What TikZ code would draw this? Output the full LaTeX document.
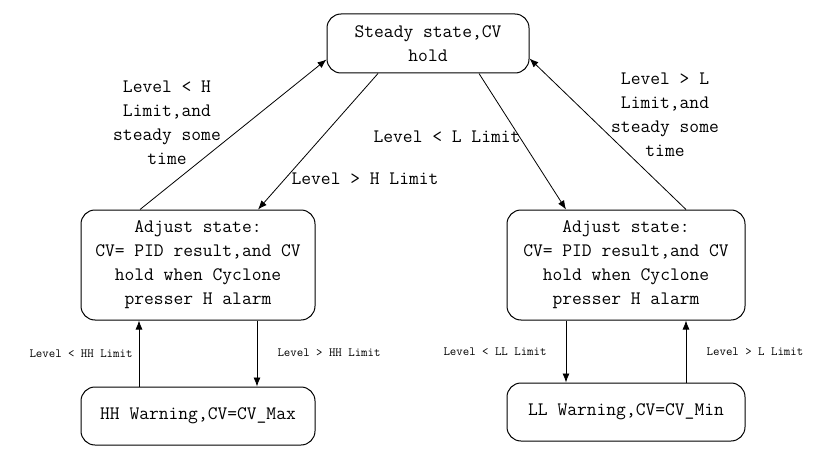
\documentclass[tikz,border=0pt]{standalone}
\usepackage{fontspec}
\usetikzlibrary{arrows.meta}

\tikzset{
    state/.style={draw, line width=1pt, rounded corners=14pt, align=center,
        font=\ttfamily\fontsize{19}{24}\selectfont, inner sep=0pt},
    bigtxt/.style={align=center, font=\ttfamily\fontsize{19}{24}\selectfont, inner sep=0pt},
    smalltxt/.style={font=\ttfamily\fontsize{12.5}{14}\selectfont, inner sep=0pt},
    arr/.style={line width=0.8pt, -{Latex[length=9pt,width=7pt]}}
}

\begin{document}
\begin{tikzpicture}[x=1pt,y=-1pt]
    \useasboundingbox (0,0) rectangle (825,460);

    % draw states
    \node[state, minimum width=202pt, minimum height=59pt] (steady) at (428,43.5) {Steady state,CV\\hold};
    \node[state, minimum width=234pt, minimum height=110pt] (adjL) at (198,265)
        {Adjust state:\\CV= PID result,and CV\\hold when Cyclone\\presser H alarm};
    \node[state, minimum width=238pt, minimum height=110pt] (adjR) at (626,265)
        {Adjust state:\\CV= PID result,and CV\\hold when Cyclone\\presser H alarm};
    \node[state, minimum width=234pt, minimum height=58pt] (hh) at (198,416) {HH Warning,CV=CV\_Max};
    \node[state, minimum width=238pt, minimum height=58pt] (ll) at (626,412) {LL Warning,CV=CV\_Min};

    % draw transitions to and from steady state
    \draw[arr] ([xshift=-58pt]adjL.north) -- ([yshift=-16pt]steady.west);
    \draw[arr] ([xshift=-50pt]steady.south) -- ([xshift=60pt]adjL.north);
    \draw[arr] ([xshift=51pt]steady.south) -- ([xshift=-60pt]adjR.north);
    \draw[arr] ([xshift=60pt]adjR.north) -- ([yshift=-15pt]steady.east);

    % draw transitions to and from warnings
    \draw[arr] ([xshift=59pt]adjL.south) -- ([xshift=59pt]hh.north);
    \draw[arr] ([xshift=-59pt]hh.north) -- ([xshift=-59pt]adjL.south);
    \draw[arr] ([xshift=-60pt]adjR.south) -- ([xshift=-60pt]ll.north);
    \draw[arr] ([xshift=60pt]ll.north) -- ([xshift=60pt]adjR.south);

    % draw labels
    \node[bigtxt] (lblHback) at (167,123) {Level < H\\Limit,and\\steady some\\time};
    \node[bigtxt] (lblLback) at (665,115) {Level > L\\Limit,and\\steady some\\time};
    \node[bigtxt] (lblLlow) at (447,137) {Level < L Limit};
    \node[bigtxt] (lblHhigh) at (365,179) {Level > H Limit};
    \node[smalltxt] (lblHHback) at (81,354) {Level < HH Limit};
    \node[smalltxt] (lblHHhigh) at (329,353) {Level > HH Limit};
    \node[smalltxt] (lblLLlow) at (495,352) {Level < LL Limit};
    \node[smalltxt] (lblLLback) at (755,352) {Level > L Limit};
\end{tikzpicture}
\end{document}
